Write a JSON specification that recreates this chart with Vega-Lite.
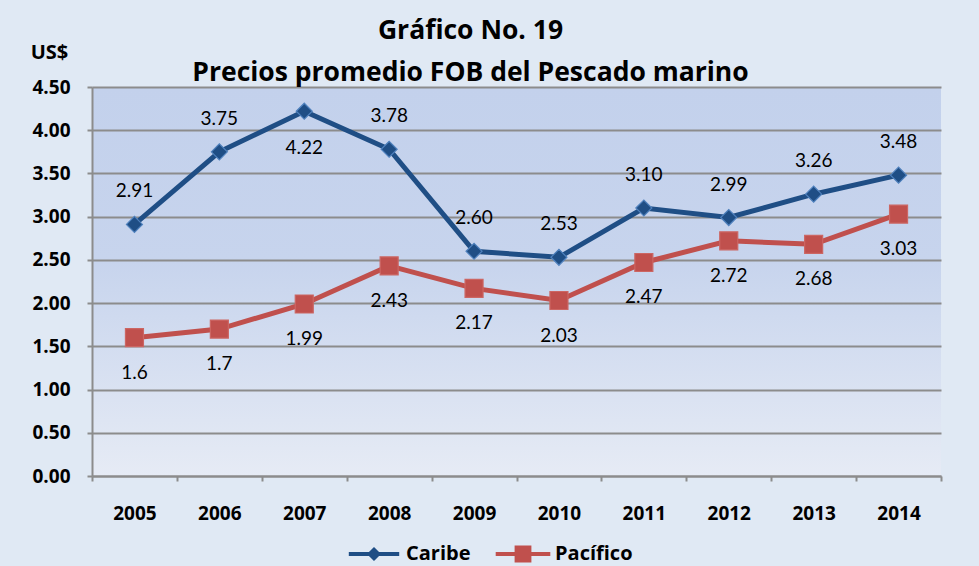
{
  "$schema": "https://vega.github.io/schema/vega-lite/v6.json",
  "width": 849,
  "height": 389,
  "autosize": {"type": "none"},
  "padding": {"left": 92, "top": 87, "right": 38, "bottom": 90},
  "background": "#e0e9f4",
  "title": {
    "text": ["Gráfico No. 19", "Precios promedio FOB del Pescado marino"],
    "font": "Open Sans",
    "fontSize": 26.5,
    "fontWeight": "bold",
    "color": "#000000",
    "lineHeight": 42,
    "anchor": "middle",
    "frame": "group",
    "dx": -46,
    "dy": 50,
    "offset": 6
  },
  "config": {
    "view": {
      "stroke": null,
      "fill": {
        "gradient": "linear", "x1": 0, "y1": 0, "x2": 0, "y2": 1,
        "stops": [
          {"offset": 0, "color": "#c3d1ec"},
          {"offset": 0.45, "color": "#c7d4ed"},
          {"offset": 1, "color": "#e6ebf5"}
        ]
      }
    },
    "axis": {
      "labelFont": "Open Sans", "labelFontWeight": "bold", "labelFontSize": 19, "labelColor": "#000000",
      "domainColor": "#8c8c8c", "domainWidth": 2, "tickColor": "#8c8c8c", "tickWidth": 2, "tickSize": 5,
      "gridColor": "#8c8c8c", "gridWidth": 2, "gridOpacity": 1
    }
  },
  "data": {
    "values": [
      {"year": "2005", "serie": "Caribe", "valor": 2.91, "etiqueta": "2.91"},
      {"year": "2006", "serie": "Caribe", "valor": 3.75, "etiqueta": "3.75"},
      {"year": "2007", "serie": "Caribe", "valor": 4.22, "etiqueta": "4.22"},
      {"year": "2008", "serie": "Caribe", "valor": 3.78, "etiqueta": "3.78"},
      {"year": "2009", "serie": "Caribe", "valor": 2.60, "etiqueta": "2.60"},
      {"year": "2010", "serie": "Caribe", "valor": 2.53, "etiqueta": "2.53"},
      {"year": "2011", "serie": "Caribe", "valor": 3.10, "etiqueta": "3.10"},
      {"year": "2012", "serie": "Caribe", "valor": 2.99, "etiqueta": "2.99"},
      {"year": "2013", "serie": "Caribe", "valor": 3.26, "etiqueta": "3.26"},
      {"year": "2014", "serie": "Caribe", "valor": 3.48, "etiqueta": "3.48"},
      {"year": "2005", "serie": "Pacífico", "valor": 1.6, "etiqueta": "1.6"},
      {"year": "2006", "serie": "Pacífico", "valor": 1.7, "etiqueta": "1.7"},
      {"year": "2007", "serie": "Pacífico", "valor": 1.99, "etiqueta": "1.99"},
      {"year": "2008", "serie": "Pacífico", "valor": 2.43, "etiqueta": "2.43"},
      {"year": "2009", "serie": "Pacífico", "valor": 2.17, "etiqueta": "2.17"},
      {"year": "2010", "serie": "Pacífico", "valor": 2.03, "etiqueta": "2.03"},
      {"year": "2011", "serie": "Pacífico", "valor": 2.47, "etiqueta": "2.47"},
      {"year": "2012", "serie": "Pacífico", "valor": 2.72, "etiqueta": "2.72"},
      {"year": "2013", "serie": "Pacífico", "valor": 2.68, "etiqueta": "2.68"},
      {"year": "2014", "serie": "Pacífico", "valor": 3.03, "etiqueta": "3.03"}
    ]
  },
  "encoding": {
    "x": {
      "field": "year", "type": "ordinal",
      "scale": {"type": "band", "paddingInner": 0, "paddingOuter": 0},
      "axis": {"title": null, "labelAngle": 0, "tickBand": "extent", "labelPadding": 23, "grid": false}
    },
    "y": {
      "field": "valor", "type": "quantitative",
      "scale": {"domain": [0, 4.5], "nice": false, "zero": true},
      "axis": {
        "values": [0, 0.5, 1, 1.5, 2, 2.5, 3, 3.5, 4, 4.5],
        "format": ".2f",
        "labelPadding": 17,
        "title": "US$",
        "titleFont": "Open Sans", "titleFontSize": 20, "titleFontWeight": "bold", "titleColor": "#000000",
        "titleAngle": 0, "titleAlign": "center", "titleBaseline": "middle",
        "titleX": -43, "titleY": -35
      }
    }
  },
  "layer": [
    {
      "mark": {"type": "line", "strokeWidth": 5},
      "encoding": {
        "color": {
          "field": "serie", "type": "nominal",
          "scale": {"domain": ["Caribe", "Pacífico"], "range": ["#1f4e85", "#c0504d"]},
          "legend": {
            "title": null,
            "orient": "none",
            "legendX": 272,
            "legendY": 457,
            "direction": "horizontal",
            "symbolSize": 196,
            "labelOffset": 22,
            "columnPadding": 24,
            "labelFont": "Open Sans", "labelFontSize": 20, "labelFontWeight": "bold", "labelColor": "#000000",
            "encode": {
              "symbols": {
                "update": {
                  "shape": {"signal": "datum.value === 'Caribe' ? 'M-3.6,-0.28L-0.72,-0.28L0,-1L0.72,-0.28L3.6,-0.28L3.6,0.28L0.72,0.28L0,1L-0.72,0.28L-3.6,0.28Z' : 'M-3.9,-0.28L-1.2,-0.28L-1.2,-1.2L1.2,-1.2L1.2,-0.28L3.9,-0.28L3.9,0.28L1.2,0.28L1.2,1.2L-1.2,1.2L-1.2,0.28L-3.9,0.28Z'"},
                  "fill": {"signal": "datum.value === 'Caribe' ? '#1f4e85' : '#c0504d'"},
                  "strokeWidth": {"value": 0},
                  "opacity": {"value": 1}
                }
              }
            }
          }
        }
      }
    },
    {
      "transform": [{"filter": "datum.serie === 'Caribe'"}],
      "mark": {"type": "point", "shape": "diamond", "size": 256, "filled": true, "opacity": 1, "fill": "#1f4e85", "stroke": "#4f81bd", "strokeWidth": 1.2}
    },
    {
      "transform": [{"filter": "datum.serie === 'Pacífico'"}],
      "mark": {"type": "point", "shape": "square", "size": 324, "filled": true, "opacity": 1, "fill": "#c0504d", "stroke": "#cc6663", "strokeWidth": 1.2}
    },
    {
      "transform": [{"filter": "datum.serie === 'Caribe' && datum.year !== '2007'"}],
      "mark": {"type": "text", "dy": -33, "font": "Lato", "fontSize": 19, "color": "#000000"},
      "encoding": {"text": {"field": "etiqueta"}}
    },
    {
      "transform": [{"filter": "datum.serie === 'Caribe' && datum.year === '2007'"}],
      "mark": {"type": "text", "dy": 37, "font": "Lato", "fontSize": 19, "color": "#000000"},
      "encoding": {"text": {"field": "etiqueta"}}
    },
    {
      "transform": [{"filter": "datum.serie === 'Pacífico'"}],
      "mark": {"type": "text", "dy": 35, "font": "Lato", "fontSize": 19, "color": "#000000"},
      "encoding": {"text": {"field": "etiqueta"}}
    }
  ]
}
